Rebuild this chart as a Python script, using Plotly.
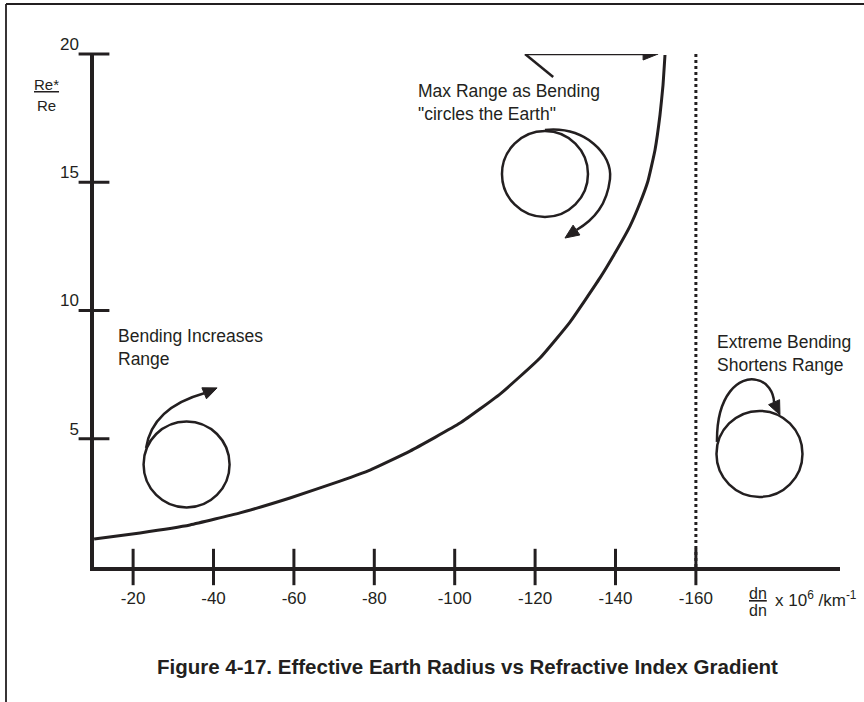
import plotly.graph_objects as go

# ---------------- data ----------------
gradient = [-10.3, -21.72, -34.15, -46.59, -59.03, -71.47, -78.93, -88.88, -101.32,
            -111.27, -121.22, -128.68, -136.14, -139.88, -143.61, -146.09, -148.08,
            -149.83, -151.07, -151.82, -152.31]
radius_ratio = [1.09, 1.33, 1.64, 2.11, 2.69, 3.35, 3.78, 4.52, 5.61,
                6.74, 8.15, 9.55, 11.27, 12.24, 13.29, 14.19, 15.05,
                16.26, 17.62, 18.79, 19.96]
x_tick_vals = [-20, -40, -60, -80, -100, -120, -140, -160]
x_tick_text = ["-20", "-40", "-60", "-80", "-100", "-120", "-140", "-160"]
y_tick_vals = [5, 10, 15, 20]
y_tick_text = ["5", "10", "15", "20"]
limit_gradient = -160
y_min, y_max = 0, 20

# illustration anchor points (data units)
circle_centers = [(-33.3, 4.00), (-122.46, 15.32), (-175.82, 4.41)]

INK = "#231f20"
FONT = "Liberation Sans, Arial, sans-serif"
X_LEFT, X_RIGHT = -10.27, -195.85

fig = go.Figure()

# main curve
fig.add_trace(go.Scatter(x=gradient, y=radius_ratio, mode="lines",
                         line=dict(color=INK, width=3, shape="spline", smoothing=0.4),
                         hoverinfo="skip", showlegend=False))
# dotted limit line
fig.add_trace(go.Scatter(x=[limit_gradient, limit_gradient], y=[y_min, y_max], mode="lines",
                         line=dict(color=INK, width=3, dash="3px,3px"),
                         hoverinfo="skip", showlegend=False))
# crossing tick marks
fig.add_trace(go.Scatter(x=x_tick_vals, y=[y_min] * len(x_tick_vals), mode="markers",
                         marker=dict(symbol="line-ns", size=26,
                                     line=dict(color=INK, width=3)),
                         cliponaxis=False, hoverinfo="skip", showlegend=False))
fig.add_trace(go.Scatter(x=[X_LEFT] * len(y_tick_vals), y=y_tick_vals, mode="markers",
                         marker=dict(symbol="line-ew", size=22,
                                     line=dict(color=INK, width=3)),
                         cliponaxis=False, hoverinfo="skip", showlegend=False))

shapes = []
# circles
for cx, cy in circle_centers:
    shapes.append(dict(type="circle", xref="x", yref="y", xsizemode="pixel", ysizemode="pixel",
                       xanchor=cx, yanchor=cy, x0=-43, x1=43, y0=-43, y1=43,
                       line=dict(color=INK, width=2.5)))
# curved arrows (pixel paths relative to circle centres)
arc_paths = [
    "M -40.5,16.5 C -36,45 -15,62 17.6,71.1",
    "M 0,44 C 40,48 68,20 65,-5 C 62,-30 50,-45 31.5,-56",
    "M -42.5,12 C -43,60 -20,78 -3,74 C 8,72 14,62 14.6,51.7",
]
head_paths = [
    "M 30.5,76.5 L 15.3,76.6 L 19.9,65.6 Z",
    "M 20,-64 L 34.9,-60.9 L 28.1,-51.1 Z",
    "M 20.5,39 L 20.1,54.2 L 9.1,49.2 Z",
]
for (cx, cy), p, h in zip(circle_centers, arc_paths, head_paths):
    shapes.append(dict(type="path", xref="x", yref="y", xsizemode="pixel", ysizemode="pixel",
                       xanchor=cx, yanchor=cy, path=p, line=dict(color=INK, width=2.5)))
    shapes.append(dict(type="path", xref="x", yref="y", xsizemode="pixel", ysizemode="pixel",
                       xanchor=cx, yanchor=cy, path=h, fillcolor=INK,
                       line=dict(color=INK, width=1)))
# top straight arrow with kink
shapes.append(dict(type="line", xref="x", yref="y", x0=-117.5, y0=20, x1=-148, y1=20,
                   line=dict(color=INK, width=2.5)))
shapes.append(dict(type="line", xref="x", yref="y", x0=-117.5, y0=20, x1=-124.5, y1=19.1,
                   line=dict(color=INK, width=2.5)))
shapes.append(dict(type="path", xref="x", yref="y", xsizemode="pixel", ysizemode="pixel",
                   xanchor=-150.6, yanchor=20, path="M 0,0 L -15,6 L -15,-6 Z",
                   fillcolor=INK, line=dict(color=INK, width=1)))
# frame lines
shapes.append(dict(type="line", xref="paper", yref="paper",
                   x0=(6 - 94) / 746, x1=(864 - 94) / 746, y0=(567 - 4) / 513, y1=(567 - 4) / 513,
                   line=dict(color=INK, width=1.8)))
shapes.append(dict(type="line", xref="paper", yref="paper",
                   x0=(6 - 94) / 746, x1=(6 - 94) / 746, y0=(567 - 4) / 513, y1=(567 - 702) / 513,
                   line=dict(color=INK, width=1.8)))

annotations = []


def px(v):
    return (v - 94) / 746


def py(v):
    return (567 - v) / 513


def label(text, x, y, size=17, xanchor="left", yanchor="top", align="left"):
    annotations.append(dict(text=text, x=px(x), y=py(y), xref="paper", yref="paper",
                            xanchor=xanchor, yanchor=yanchor, align=align, showarrow=False,
                            font=dict(family=FONT, size=size, color=INK)))


label("Max Range as Bending<br>\"circles the Earth\"", 416, 79, size=17.5)
label("Bending Increases<br>Range", 116, 324, size=17.5)
label("Extreme Bending<br>Shortens Range", 715, 330, size=17.5)
label("<u>Re*</u>", 46, 74, size=15, xanchor="center", align="center")
label("Re", 46, 95, size=15, xanchor="center", align="center")
label("<u>dn</u>", 758, 583, size=16, xanchor="center", align="center")
label("dn", 758, 600, size=16, xanchor="center", align="center")
label("x 10<sup>6</sup> /km<sup>-1</sup>", 773, 599, size=17, yanchor="middle")
label("<b>Figure 4-17. Effective Earth Radius vs Refractive Index Gradient</b>", 467, 653,
      size=20.5, xanchor="center", align="center")

fig.update_layout(
    width=864, height=702,
    margin=dict(l=94, r=24, t=54, b=135),
    paper_bgcolor="white", plot_bgcolor="white",
    font=dict(family=FONT, color=INK, size=17),
    shapes=shapes, annotations=annotations,
    xaxis=dict(range=[X_LEFT, X_RIGHT], showgrid=False, zeroline=False,
               showline=True, linecolor=INK, linewidth=3.5,
               tickmode="array", tickvals=x_tick_vals, ticktext=x_tick_text,
               ticks="", ticklabelstandoff=13, tickfont=dict(size=17, color=INK)),
    yaxis=dict(range=[y_min, y_max], showgrid=False, zeroline=False,
               showline=True, linecolor=INK, linewidth=3.5,
               tickmode="array", tickvals=y_tick_vals, ticktext=y_tick_text,
               ticks="", ticklabelstandoff=8, ticklabelshift=-10,
               tickfont=dict(size=17, color=INK)),
    hovermode=False,
)

fig.write_html("out.html", config={"displayModeBar": False},
               post_script="document.body.style.margin='0px';document.body.style.overflow='hidden';")
